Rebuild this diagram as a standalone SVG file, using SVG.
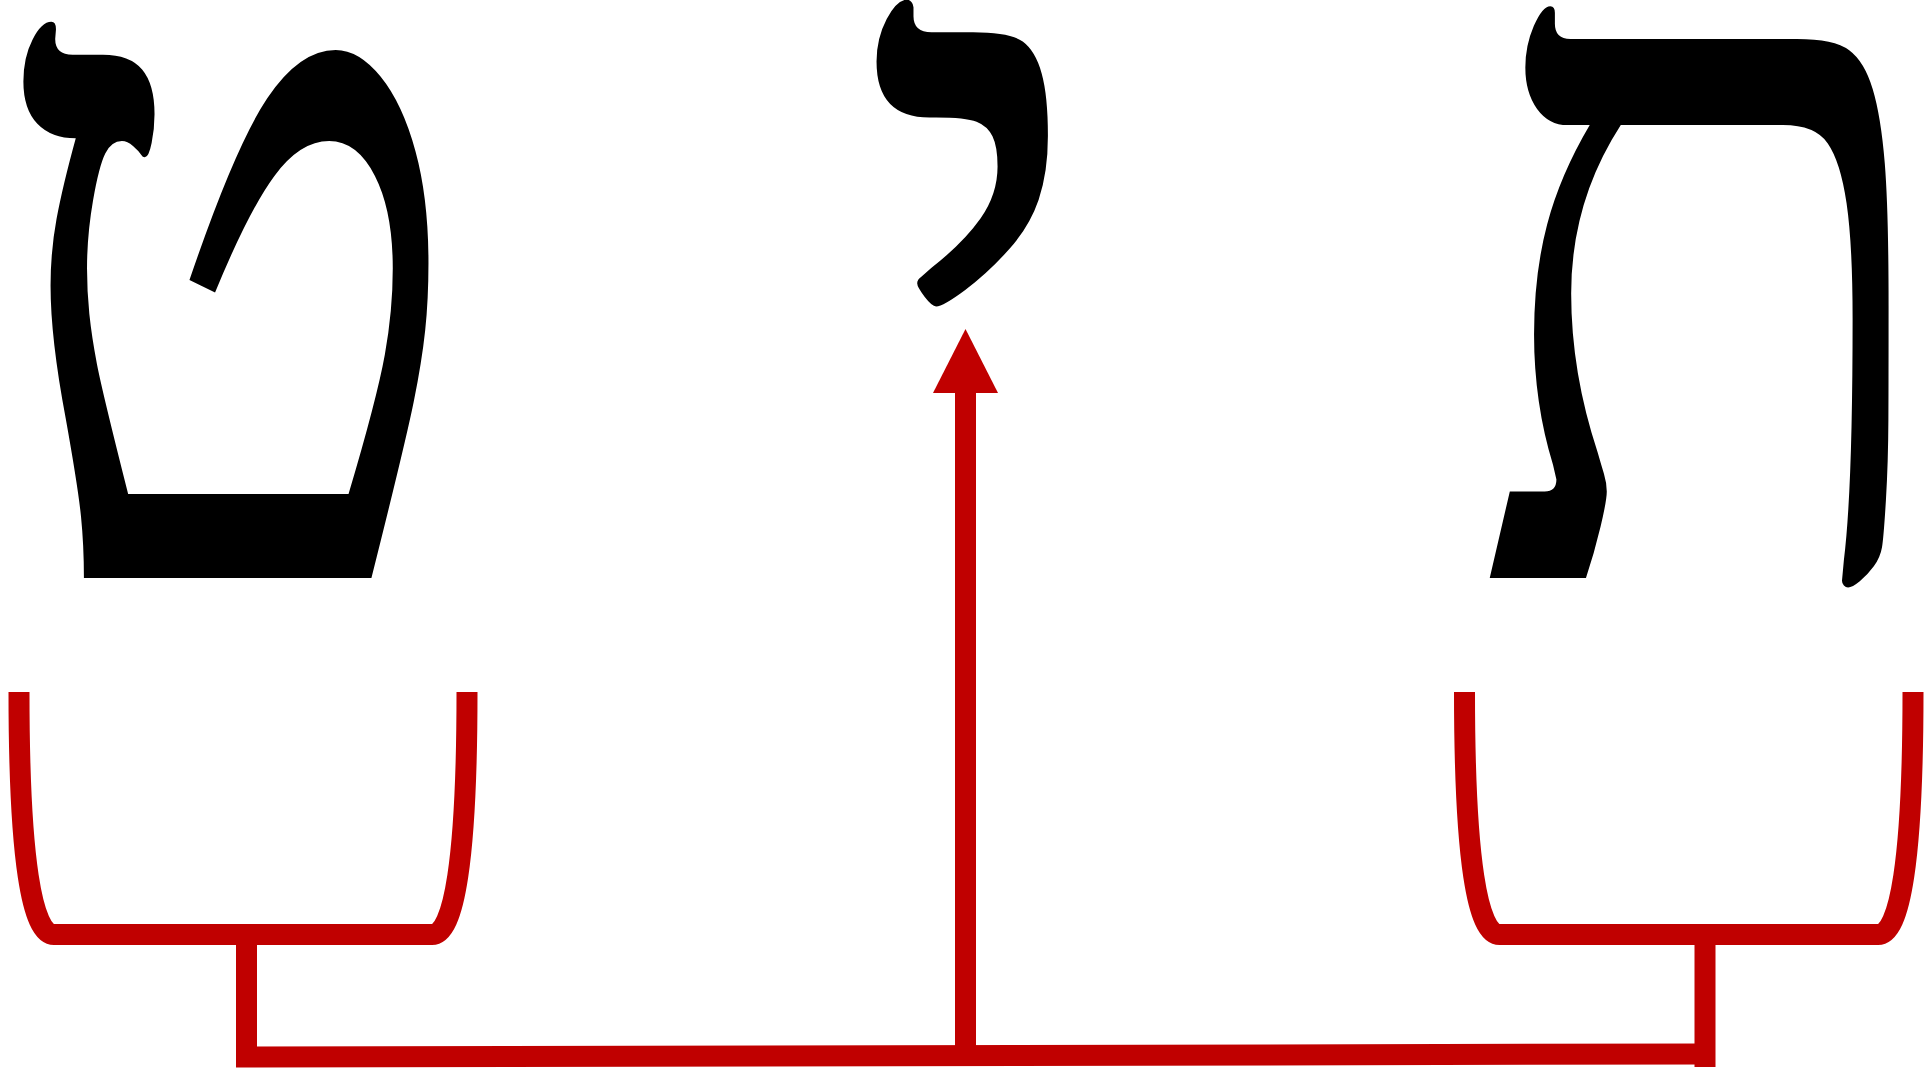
<svg xmlns="http://www.w3.org/2000/svg" width="1928" height="1072" viewBox="0 0 1928 1072">
<style>
.letter{font-family:"Liberation Serif","DejaVu Serif",serif;font-size:946px;fill:#000;text-anchor:middle}
.conn{fill:none;stroke:#C00000;stroke-width:21;stroke-linejoin:miter;stroke-linecap:butt}
.head{fill:#C00000}
</style>
<rect width="1928" height="1072" fill="#fff"/>
<g id="tet"><text class="letter" transform="translate(230,578) scale(0.84,1)" x="0" y="0">ט</text></g>
<g id="yod"><text class="letter" transform="translate(977,566) scale(1,1.02)" x="0" y="0">י</text></g>
<g id="tav"><text class="letter" transform="translate(1710,578) scale(0.82,1.03)" x="0" y="0">ת</text></g>
<g id="connectors">
<path class="conn" d="M19,692 C19,860 32,934.5 54,934.5 H432 C454,934.5 467,860 467,692"/>
<path class="conn" d="M1464.5,692 C1464.5,860 1477.5,934.5 1499.5,934.5 H1878 C1900,934.5 1913,860 1913,692"/>
<path class="conn" d="M246.5,934.5 V1057 L1705,1054"/>
<path class="conn" d="M1705,934.5 V1067"/>
<path class="conn" d="M965.5,1055.5 V392"/>
<polygon class="head" points="965.5,329 933,393 998,393"/>
</g>
</svg>
